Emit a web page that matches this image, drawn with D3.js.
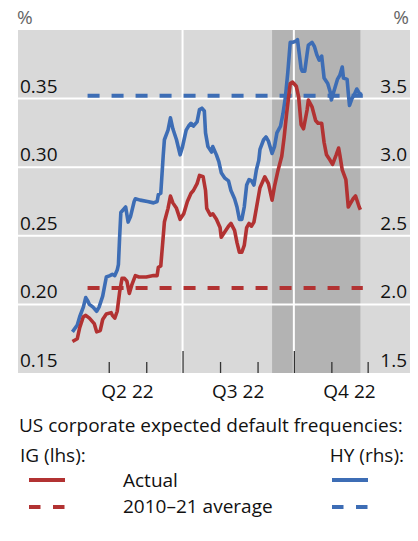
<!DOCTYPE html>
<html><head><meta charset="utf-8">
<script src="https://cdn.jsdelivr.net/npm/d3@7"></script>
<style>
html,body{margin:0;padding:0;background:#fff;}
svg{display:block;}
text{font-family:"Open Sans","Noto Sans",sans-serif;}
</style></head>
<body>
<svg id="chart" width="418" height="541"></svg>
<script>
// ---- data ----
const hyDates = ["2022-04-01","2022-04-05","2022-04-07","2022-04-10","2022-04-12","2022-04-14","2022-04-15","2022-04-18","2022-04-21","2022-04-23","2022-04-26","2022-04-29","2022-05-02","2022-05-04","2022-05-06","2022-05-08","2022-05-09","2022-05-10","2022-05-11","2022-05-13","2022-05-15","2022-05-17","2022-05-19","2022-05-22","2022-05-23","2022-05-27","2022-06-02","2022-06-07","2022-06-10","2022-06-11","2022-06-13","2022-06-15","2022-06-16","2022-06-19","2022-06-21","2022-06-23","2022-06-26","2022-06-29","2022-07-01","2022-07-04","2022-07-06","2022-07-08","2022-07-10","2022-07-13","2022-07-15","2022-07-17","2022-07-19","2022-07-20","2022-07-22","2022-07-25","2022-07-26","2022-07-29","2022-07-31","2022-08-02","2022-08-05","2022-08-08","2022-08-10","2022-08-13","2022-08-15","2022-08-17","2022-08-19","2022-08-21","2022-08-23","2022-08-25","2022-08-27","2022-08-29","2022-08-31","2022-09-02","2022-09-03","2022-09-06","2022-09-08","2022-09-10","2022-09-13","2022-09-15","2022-09-17","2022-09-20","2022-09-22","2022-09-24","2022-09-26","2022-09-28","2022-09-30","2022-10-03","2022-10-04","2022-10-05","2022-10-07","2022-10-08","2022-10-10","2022-10-12","2022-10-13","2022-10-16","2022-10-18","2022-10-20","2022-10-22","2022-10-24","2022-10-25","2022-10-26","2022-10-29","2022-10-31","2022-11-01","2022-11-03","2022-11-06","2022-11-08","2022-11-10","2022-11-11","2022-11-14","2022-11-15","2022-11-16","2022-11-18","2022-11-20","2022-11-22","2022-11-24","2022-11-26"];
const hyValues = [1.80,1.85,1.91,1.98,2.05,2.02,2.00,1.98,1.95,1.98,2.06,2.20,2.21,2.22,2.21,2.25,2.29,2.49,2.67,2.69,2.71,2.60,2.64,2.75,2.77,2.76,2.75,2.74,2.75,2.80,2.81,3.08,3.20,3.27,3.36,3.28,3.20,3.09,3.15,3.27,3.30,3.32,3.30,3.33,3.42,3.43,3.41,3.25,3.15,3.11,3.15,3.09,3.04,2.96,2.92,2.90,2.83,2.77,2.71,2.62,2.62,2.71,2.87,2.91,2.90,2.87,2.98,3.05,3.13,3.20,3.22,3.19,3.10,3.15,3.25,3.30,3.39,3.51,3.69,3.91,3.91,3.92,3.93,3.86,3.72,3.70,3.70,3.83,3.89,3.91,3.88,3.82,3.78,3.81,3.73,3.65,3.61,3.55,3.49,3.55,3.64,3.67,3.73,3.65,3.64,3.54,3.45,3.50,3.53,3.57,3.54,3.53];

const igDates = ["2022-04-01","2022-04-05","2022-04-07","2022-04-10","2022-04-12","2022-04-15","2022-04-19","2022-04-21","2022-04-24","2022-04-26","2022-04-29","2022-05-03","2022-05-04","2022-05-06","2022-05-08","2022-05-10","2022-05-12","2022-05-14","2022-05-16","2022-05-18","2022-05-20","2022-05-23","2022-05-26","2022-06-01","2022-06-07","2022-06-10","2022-06-11","2022-06-13","2022-06-15","2022-06-16","2022-06-19","2022-06-21","2022-06-23","2022-06-26","2022-06-29","2022-07-02","2022-07-05","2022-07-08","2022-07-10","2022-07-13","2022-07-15","2022-07-18","2022-07-20","2022-07-21","2022-07-24","2022-07-26","2022-07-29","2022-08-01","2022-08-02","2022-08-05","2022-08-08","2022-08-10","2022-08-13","2022-08-15","2022-08-17","2022-08-19","2022-08-21","2022-08-23","2022-08-25","2022-08-27","2022-08-29","2022-09-01","2022-09-03","2022-09-07","2022-09-10","2022-09-13","2022-09-15","2022-09-18","2022-09-21","2022-09-23","2022-09-25","2022-09-28","2022-09-30","2022-10-03","2022-10-05","2022-10-07","2022-10-09","2022-10-12","2022-10-13","2022-10-16","2022-10-19","2022-10-21","2022-10-24","2022-10-26","2022-10-28","2022-10-31","2022-11-02","2022-11-05","2022-11-07","2022-11-08","2022-11-10","2022-11-13","2022-11-15","2022-11-17","2022-11-19","2022-11-21","2022-11-24","2022-11-25"];
const igValues = [0.173,0.175,0.183,0.191,0.192,0.190,0.186,0.180,0.181,0.189,0.193,0.194,0.192,0.190,0.195,0.209,0.219,0.219,0.217,0.208,0.214,0.221,0.220,0.220,0.221,0.221,0.227,0.228,0.249,0.260,0.270,0.279,0.274,0.270,0.262,0.266,0.275,0.281,0.283,0.288,0.294,0.293,0.283,0.270,0.265,0.266,0.262,0.256,0.249,0.253,0.257,0.259,0.254,0.245,0.238,0.238,0.243,0.256,0.259,0.257,0.260,0.275,0.285,0.293,0.288,0.276,0.286,0.298,0.308,0.322,0.339,0.361,0.362,0.359,0.351,0.331,0.328,0.342,0.349,0.344,0.334,0.332,0.332,0.318,0.309,0.305,0.302,0.309,0.314,0.309,0.298,0.291,0.271,0.274,0.277,0.279,0.271,0.269];

const igAverage = 0.212;
const hyAverage = 3.52;
const averageSpan = ["2022-04-04","2022-11-27"];
const shadedSpan = ["2022-09-13","2022-11-25"];
const xDomain = ["2022-02-15","2023-01-05"];
const leftTicks = [0.15,0.20,0.25,0.30,0.35];
const rightTicks = [1.5,2.0,2.5,3.0,3.5];
const gridValues = [0.20,0.25,0.30,0.35];
const quarterStarts = ["2022-04-01","2022-07-01","2022-10-01","2023-01-01"];
const quarterLabels = ["Q2 22","Q3 22","Q4 22"];
const monthTicks = ["2022-05-01","2022-06-01","2022-07-01","2022-08-01","2022-09-01","2022-10-01","2022-11-01","2022-12-01"];
const majorTicks = ["2022-07-01","2022-10-01"];

// ---- drawing ----
const parse = d3.utcParse("%Y-%m-%d");
const svg = d3.select("#chart");
const L = 18, R = 410, T = 30, B = 373;
const RED = "#b23232", BLUE = "#3d6db5";
const x = d3.scaleUtc().domain(xDomain.map(parse)).range([L, R]);
const yL = d3.scaleLinear().domain([0.15, 0.40]).range([B, T]);
const yR = d3.scaleLinear().domain([1.5, 4.0]).range([B, T]);

svg.append("rect").attr("x", L).attr("y", T).attr("width", R - L).attr("height", B - T).attr("fill", "#d9d9d9");
const s0 = x(parse(shadedSpan[0])), s1 = x(parse(shadedSpan[1]));
svg.append("rect").attr("x", s0).attr("y", T).attr("width", s1 - s0).attr("height", B - T).attr("fill", "#b3b3b3");

// gridlines
svg.selectAll("line.hg").data(gridValues).join("line")
  .attr("x1", L).attr("x2", R).attr("y1", d => yL(d)).attr("y2", d => yL(d))
  .attr("stroke", "#fff").attr("stroke-width", 2);
svg.selectAll("line.vg").data(majorTicks).join("line")
  .attr("x1", d => x(parse(d))).attr("x2", d => x(parse(d))).attr("y1", T).attr("y2", B)
  .attr("stroke", "#fff").attr("stroke-width", 2);

// x axis ticks
const xAxis = d3.axisBottom(x).tickValues(monthTicks.map(parse)).tickFormat("")
  .tickSizeInner(0).tickSizeOuter(0);
const gx = svg.append("g").attr("transform", `translate(0,${B})`).call(xAxis);
gx.select(".domain").remove();
gx.selectAll(".tick line")
  .attr("y1", d => majorTicks.includes(d3.utcFormat("%Y-%m-%d")(d)) ? -22 : -11)
  .attr("y2", 0).attr("stroke", "#333").attr("stroke-width", 1.3);

// quarter labels
svg.selectAll("text.q").data(quarterLabels).join("text")
  .attr("x", (d, i) => (x(parse(quarterStarts[i])) + x(parse(quarterStarts[i + 1]))) / 2)
  .attr("y", 398).attr("text-anchor", "middle").attr("font-size", 19).attr("fill", "#111")
  .text(d => d);

// y labels
svg.selectAll("text.yl").data(leftTicks).join("text")
  .attr("x", 20).attr("y", d => yL(d) - 6).attr("font-size", 19).attr("fill", "#111")
  .text(d => d3.format(".2f")(d));
svg.selectAll("text.yr").data(rightTicks).join("text")
  .attr("x", 407).attr("y", d => yR(d) - 6).attr("text-anchor", "end").attr("font-size", 19).attr("fill", "#111")
  .text(d => d3.format(".1f")(d));
svg.append("text").attr("x", 17).attr("y", 24).attr("font-size", 19).attr("fill", "#666").text("%");
svg.append("text").attr("x", 409).attr("y", 24).attr("text-anchor", "end").attr("font-size", 19).attr("fill", "#666").text("%");

// average dashed lines
const a0 = x(parse(averageSpan[0])), a1 = x(parse(averageSpan[1]));
[[yL(igAverage), RED], [yR(hyAverage), BLUE]].forEach(([yy, c]) => {
  svg.append("line").attr("x1", a0).attr("x2", a1).attr("y1", yy).attr("y2", yy)
    .attr("stroke", c).attr("stroke-width", 4).attr("stroke-dasharray", "12,12").attr("stroke-dashoffset", 12.5);
});

// series
const hy = hyDates.map((d, i) => ({ d: parse(d), v: hyValues[i] }));
const ig = igDates.map((d, i) => ({ d: parse(d), v: igValues[i] }));
svg.append("path").datum(hy)
  .attr("d", d3.line().x(p => x(p.d)).y(p => yR(p.v)))
  .attr("fill", "none").attr("stroke", BLUE).attr("stroke-width", 3.6).attr("stroke-linejoin", "round");
svg.append("path").datum(ig)
  .attr("d", d3.line().x(p => x(p.d)).y(p => yL(p.v)))
  .attr("fill", "none").attr("stroke", RED).attr("stroke-width", 3.6).attr("stroke-linejoin", "round");

// legend
const lg = svg.append("g").attr("font-size", 19).attr("fill", "#111");
lg.append("text").attr("x", 19).attr("y", 432).text("US corporate expected default frequencies:");
lg.append("text").attr("x", 20).attr("y", 462).text("IG (lhs):");
lg.append("text").attr("x", 404).attr("y", 462).attr("text-anchor", "end").text("HY (rhs):");
lg.append("text").attr("x", 123).attr("y", 487).text("Actual");
lg.append("text").attr("x", 123).attr("y", 513).text("2010–21 average");
[[29, RED], [332, BLUE]].forEach(([lx, c]) => {
  lg.append("line").attr("x1", lx).attr("x2", lx + 36).attr("y1", 480).attr("y2", 480)
    .attr("stroke", c).attr("stroke-width", 4);
  lg.append("line").attr("x1", lx).attr("x2", lx + 36).attr("y1", 507).attr("y2", 507)
    .attr("stroke", c).attr("stroke-width", 4).attr("stroke-dasharray", "11.5,12.5");
});
</script>
</body></html>
